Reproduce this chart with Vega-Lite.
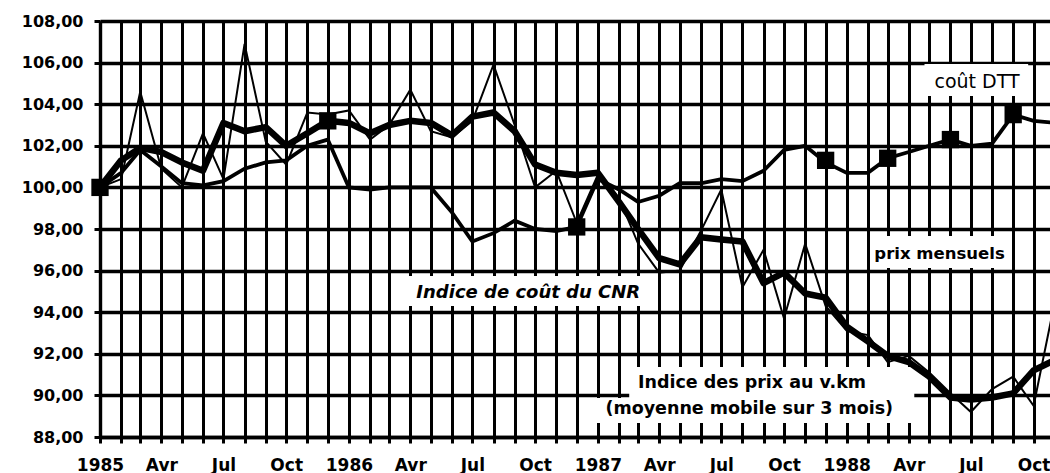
{
  "$schema": "https://vega.github.io/schema/vega-lite/v6.json",
  "width": 950,
  "height": 416,
  "autosize": {"type": "none"},
  "padding": {"left": 100, "top": 21, "right": 0, "bottom": 36},
  "background": "white",
  "config": {
    "view": {"stroke": null},
    "axis": {
      "grid": true,
      "gridColor": "#000",
      "gridOpacity": 1,
      "domainColor": "#000",
      "domainWidth": 3.4,
      "tickColor": "#000",
      "tickWidth": 3,
      "tickSize": 6,
      "labelColor": "#000",
      "labelFont": "DejaVu Sans",
      "labelFontWeight": "bold",
      "title": null,
      "labelOverlap": false,
      "labelFlush": false,
      "labelBound": false
    }
  },
  "datasets": {
    "mensuel": [
      {"date": "1985-01-01", "prix": 100.0, "moyenne": 100.0, "cnr": 100.0},
      {"date": "1985-02-01", "prix": 100.4, "moyenne": 101.3, "cnr": 100.7},
      {"date": "1985-03-01", "prix": 104.6, "moyenne": 101.9, "cnr": 101.8},
      {"date": "1985-04-01", "prix": 100.9, "moyenne": 101.7, "cnr": 101.0},
      {"date": "1985-05-01", "prix": 100.0, "moyenne": 101.2, "cnr": 100.2},
      {"date": "1985-06-01", "prix": 102.6, "moyenne": 100.8, "cnr": 100.1},
      {"date": "1985-07-01", "prix": 100.4, "moyenne": 103.1, "cnr": 100.3},
      {"date": "1985-08-01", "prix": 106.9, "moyenne": 102.7, "cnr": 100.9},
      {"date": "1985-09-01", "prix": 102.2, "moyenne": 102.9, "cnr": 101.2},
      {"date": "1985-10-01", "prix": 101.1, "moyenne": 102.0, "cnr": 101.3},
      {"date": "1985-11-01", "prix": 103.6, "moyenne": 102.6, "cnr": 102.0},
      {"date": "1985-12-01", "prix": 103.5, "moyenne": 103.2, "cnr": 102.3},
      {"date": "1986-01-01", "prix": 103.7, "moyenne": 103.1, "cnr": 100.0},
      {"date": "1986-02-01", "prix": 102.3, "moyenne": 102.6, "cnr": 99.9},
      {"date": "1986-03-01", "prix": 103.0, "moyenne": 103.0, "cnr": 100.0},
      {"date": "1986-04-01", "prix": 104.7, "moyenne": 103.2, "cnr": 100.0},
      {"date": "1986-05-01", "prix": 102.7, "moyenne": 103.1, "cnr": 100.0},
      {"date": "1986-06-01", "prix": 102.4, "moyenne": 102.5, "cnr": 98.8},
      {"date": "1986-07-01", "prix": 103.2, "moyenne": 103.4, "cnr": 97.4},
      {"date": "1986-08-01", "prix": 105.9, "moyenne": 103.6, "cnr": 97.8},
      {"date": "1986-09-01", "prix": 103.0, "moyenne": 102.7, "cnr": 98.4},
      {"date": "1986-10-01", "prix": 100.0, "moyenne": 101.1, "cnr": 98.0},
      {"date": "1986-11-01", "prix": 100.8, "moyenne": 100.7, "cnr": 97.9},
      {"date": "1986-12-01", "prix": 98.3, "moyenne": 100.6, "cnr": 98.1},
      {"date": "1987-01-01", "prix": 100.6, "moyenne": 100.7, "cnr": 100.4},
      {"date": "1987-02-01", "prix": 99.5, "moyenne": 99.3, "cnr": 99.9},
      {"date": "1987-03-01", "prix": 97.3, "moyenne": 98.0, "cnr": 99.3},
      {"date": "1987-04-01", "prix": 95.9, "moyenne": 96.6, "cnr": 99.6},
      {"date": "1987-05-01", "prix": 96.0, "moyenne": 96.3, "cnr": 100.2},
      {"date": "1987-06-01", "prix": 97.9, "moyenne": 97.6, "cnr": 100.2},
      {"date": "1987-07-01", "prix": 99.9, "moyenne": 97.5, "cnr": 100.4},
      {"date": "1987-08-01", "prix": 95.2, "moyenne": 97.4, "cnr": 100.3},
      {"date": "1987-09-01", "prix": 97.0, "moyenne": 95.4, "cnr": 100.8},
      {"date": "1987-10-01", "prix": 93.7, "moyenne": 95.9, "cnr": 101.8},
      {"date": "1987-11-01", "prix": 97.3, "moyenne": 94.9, "cnr": 102.0},
      {"date": "1987-12-01", "prix": 94.3, "moyenne": 94.7, "cnr": 101.2},
      {"date": "1988-01-01", "prix": 93.1, "moyenne": 93.3, "cnr": 100.7},
      {"date": "1988-02-01", "prix": 92.9, "moyenne": 92.6, "cnr": 100.7},
      {"date": "1988-03-01", "prix": 91.6, "moyenne": 91.9, "cnr": 101.4},
      {"date": "1988-04-01", "prix": 91.9, "moyenne": 91.6, "cnr": 101.7},
      {"date": "1988-05-01", "prix": 91.1, "moyenne": 90.9, "cnr": 102.0},
      {"date": "1988-06-01", "prix": 90.1, "moyenne": 89.9, "cnr": 102.3},
      {"date": "1988-07-01", "prix": 89.2, "moyenne": 89.8, "cnr": 102.0},
      {"date": "1988-08-01", "prix": 90.3, "moyenne": 89.9, "cnr": 102.1},
      {"date": "1988-09-01", "prix": 90.9, "moyenne": 90.1, "cnr": 103.5},
      {"date": "1988-10-01", "prix": 89.5, "moyenne": 91.2, "cnr": 103.2},
      {"date": "1988-11-01", "prix": 94.5, "moyenne": 91.7, "cnr": 103.1}
    ],
    "dtt": [
      {"date": "1985-01-01", "value": 100.0},
      {"date": "1985-12-01", "value": 103.2},
      {"date": "1986-12-01", "value": 98.1},
      {"date": "1987-12-01", "value": 101.3},
      {"date": "1988-03-01", "value": 101.4},
      {"date": "1988-06-01", "value": 102.3},
      {"date": "1988-09-01", "value": 103.5}
    ]
  },
  "encoding": {
    "x": {
      "field": "date",
      "type": "temporal",
      "scale": {
        "type": "utc",
        "domain": [
          {"year": 1985, "month": 1, "date": 1, "utc": true},
          {"year": 1988, "month": 10, "date": 25, "utc": true}
        ]
      },
      "axis": {
        "tickCount": {"interval": "month", "step": 1},
        "gridWidth": 3,
        "labelFontSize": 17,
        "labelPadding": 14,
        "labelExpr": "utcmonth(datum.value) == 0 ? utcFormat(datum.value, '%Y') : utcmonth(datum.value) == 3 ? 'Avr' : utcmonth(datum.value) == 6 ? 'Jul' : utcmonth(datum.value) == 9 ? 'Oct' : ''"
      }
    },
    "y": {
      "field": "value",
      "type": "quantitative",
      "scale": {"domain": [88, 108], "nice": false, "zero": false},
      "axis": {
        "values": [88, 90, 92, 94, 96, 98, 100, 102, 104, 106, 108],
        "gridWidth": 3.4,
        "labelFontSize": 16,
        "labelPadding": 11,
        "labelExpr": "replace(format(datum.value, '.2f'), '.', ',')"
      }
    }
  },
  "layer": [
    {
      "data": {
        "values": [
          {"date": "1988-04-24", "date2": "1988-09-23", "value": 105.93, "value2": 104.39},
          {"date": "1988-02-07", "date2": "1988-08-24", "value": 97.66, "value2": 96.13},
          {"date": "1986-03-30", "date2": "1987-03-16", "value": 95.74, "value2": 94.3},
          {"date": "1987-02-16", "date2": "1988-04-09", "value": 91.37, "value2": 89.87},
          {"date": "1986-12-27", "date2": "1988-04-09", "value": 89.87, "value2": 88.67}
        ],
        "format": {"parse": {"date": "date", "date2": "date"}}
      },
      "mark": {"type": "rect", "fill": "white", "stroke": null},
      "encoding": {
        "x2": {"field": "date2"},
        "y2": {"field": "value2"}
      }
    },
    {
      "data": {"name": "mensuel"},
      "transform": [{"fold": ["prix"], "as": ["serie", "value"]}],
      "mark": {"type": "line", "color": "#000", "clip": true, "strokeWidth": 2},
      "encoding": {}
    },
    {
      "data": {"name": "mensuel"},
      "transform": [{"fold": ["cnr"], "as": ["serie", "value"]}],
      "mark": {"type": "line", "color": "#000", "clip": true, "strokeWidth": 3.8},
      "encoding": {}
    },
    {
      "data": {"name": "mensuel"},
      "transform": [{"fold": ["moyenne"], "as": ["serie", "value"]}],
      "mark": {"type": "line", "color": "#000", "clip": true, "strokeWidth": 6.5, "strokeJoin": "round"},
      "encoding": {}
    },
    {
      "data": {"name": "dtt"},
      "mark": {"type": "point", "shape": "square", "filled": true, "color": "#000", "size": 300, "opacity": 1}
    },
    {
      "data": {"values": [{"date": "1988-07-10", "value": 104.78, "text": "coût DTT"}]},
      "mark": {"type": "text", "font": "DejaVu Sans", "fontSize": 19, "fontWeight": "normal", "align": "center", "baseline": "alphabetic", "color": "#000"},
      "encoding": {"text": {"field": "text"}}
    },
    {
      "data": {"values": [{"date": "1988-05-16", "value": 96.55, "text": "prix mensuels"}]},
      "mark": {"type": "text", "font": "DejaVu Sans", "fontSize": 16.5, "fontWeight": "bold", "align": "center", "baseline": "alphabetic", "color": "#000"},
      "encoding": {"text": {"field": "text"}}
    },
    {
      "data": {"values": [{"date": "1986-09-21", "value": 94.68, "text": "Indice de coût du CNR"}]},
      "mark": {"type": "text", "font": "DejaVu Sans", "fontSize": 18, "fontWeight": "bold", "fontStyle": "italic", "align": "center", "baseline": "alphabetic", "color": "#000"},
      "encoding": {"text": {"field": "text"}}
    },
    {
      "data": {
        "values": [
          {"date": "1987-08-15", "value": 90.35, "text": "Indice des prix au v.km"},
          {"date": "1987-08-11", "value": 89.11, "text": "(moyenne mobile sur 3 mois)"}
        ]
      },
      "mark": {"type": "text", "font": "DejaVu Sans", "fontSize": 17.5, "fontWeight": "bold", "align": "center", "baseline": "alphabetic", "color": "#000"},
      "encoding": {"text": {"field": "text"}}
    }
  ]
}
